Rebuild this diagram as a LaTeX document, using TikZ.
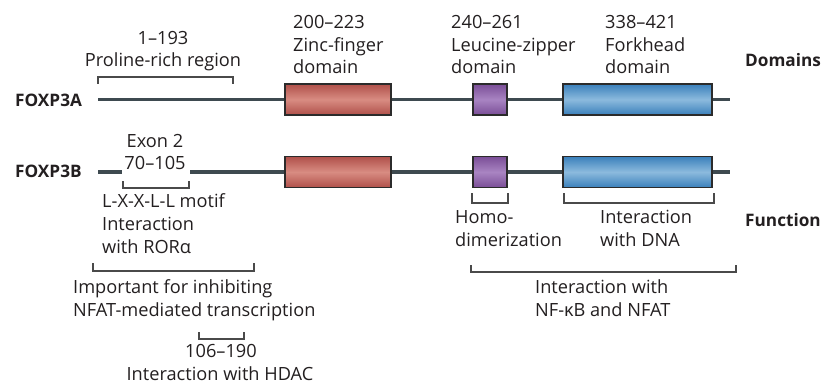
\documentclass[tikz,border=0pt]{standalone}
\usepackage{fontspec}
\setmainfont{Open Sans}
\begin{document}
\begin{tikzpicture}[x=1pt,y=-1pt,
  txt/.style={inner sep=0pt,text=ink,font=\fontsize{18.2}{22}\selectfont},
  lab/.style={txt,font=\fontsize{17.2}{21}\selectfont\bfseries},
  chain/.style={line width=3pt,draw=backbone},
  brk/.style={line width=1.3pt,draw=bracketgray},
  dombox/.style={draw=boxedge,line width=1.4pt,inner sep=0pt,minimum height=31pt},
  zinc/.style={dombox,top color=redE,bottom color=redE,middle color=redM},
  leu/.style={dombox,top color=purE,bottom color=purE,middle color=purM},
  fork/.style={dombox,top color=bluE,bottom color=bluE,middle color=bluM}]
\definecolor{ink}{HTML}{231F20}
\definecolor{backbone}{HTML}{3E4A50}
\definecolor{bracketgray}{HTML}{4A4A4A}
\definecolor{boxedge}{HTML}{2B2B2B}
\definecolor{redE}{HTML}{B0504A}
\definecolor{redM}{HTML}{D88C82}
\definecolor{purE}{HTML}{7A4E97}
\definecolor{purM}{HTML}{A984C2}
\definecolor{bluE}{HTML}{3A80BB}
\definecolor{bluM}{HTML}{8CBADD}
\useasboundingbox (0,0) rectangle (822,385);

% ---- FOXP3A backbone ----
\coordinate (a0) at (98,99.5);
\coordinate (a1) at (730,99.5);
\draw[chain] (a0) -- (a1);
\node[zinc,minimum width=106pt] (zfA) at (338,99.5) {};
\node[leu,minimum width=34pt] (lzA) at (490,99.5) {};
\node[fork,minimum width=149pt] (fhA) at (637.5,99.5) {};

% ---- FOXP3B backbone (exon 2 spliced out) ----
\coordinate (b0) at (98,172);
\coordinate (b1) at (122,172);
\coordinate (b2) at (190,172);
\coordinate (b3) at (730,172);
\draw[chain] (b0) -- (b1);
\draw[chain] (b2) -- (b3);
\node[zinc,minimum width=106pt] (zfB) at (338,172) {};
\node[leu,minimum width=34pt] (lzB) at (490,172) {};
\node[fork,minimum width=149pt] (fhB) at (637.5,172) {};

% ---- row labels ----
\node[lab,anchor=base west] (nA) at (15,107) {FOXP3A};
\node[lab,anchor=base west] (nB) at (15,178) {FOXP3B};
\node[lab,anchor=base west] (nDom) at (745,67) {Domains};
\node[lab,anchor=base west] (nFun) at (745,226) {Function};

% ---- domain annotations ----
\draw[brk] (98,84) -- (98,77) -- (233,77) -- (233,84);
\node[txt,anchor=base] (pr1) at (163,45) {1–193};
\node[txt,anchor=base] (pr2) at (163,67) {Proline-rich region};

\node[txt,anchor=base west] (zf1) at (293,29) {200–223};
\node[txt,anchor=base west] (zf2) at (293,52) {Zinc-finger};
\node[txt,anchor=base west] (zf3) at (293,74) {domain};

\node[txt,anchor=base west] (lz1) at (451,29) {240–261};
\node[txt,anchor=base west] (lz2) at (451,52) {Leucine-zipper};
\node[txt,anchor=base west] (lz3) at (451,74) {domain};

\node[txt,anchor=base west] (fh1) at (605,29) {338–421};
\node[txt,anchor=base west] (fh2) at (605,52) {Forkhead};
\node[txt,anchor=base west] (fh3) at (605,74) {domain};

% ---- exon 2 ----
\node[txt,anchor=base] (ex1) at (155,147) {Exon 2};
\node[txt,anchor=base] (ex2) at (155,169) {70–105};
\draw[brk] (123,181) -- (123,188) -- (189,188) -- (189,181);
\node[txt,anchor=base west] (mo1) at (102,207) {L-X-X-L-L motif};
\node[txt,anchor=base west] (mo2) at (102,230) {Interaction};
\node[txt,anchor=base west] (mo3) at (102,253) {with RORα};

\draw[brk] (93,263) -- (93,271) -- (254,271) -- (254,263);
\node[txt,anchor=base west] (nf1) at (73,293) {Important for inhibiting};
\node[txt,anchor=base west] (nf2) at (73,316) {NFAT-mediated transcription};

\draw[brk] (199,332) -- (199,339) -- (244,339) -- (244,332);
\node[txt,anchor=base] (hd1) at (221,357) {106–190};
\node[txt,anchor=base] (hd2) at (220,380) {Interaction with HDAC};

% ---- C-terminal functions ----
\draw[brk] (472,193) -- (472,203) -- (508,203) -- (508,193);
\node[txt,anchor=base west] (ho1) at (455,223) {Homo-};
\node[txt,anchor=base west] (ho2) at (455,246) {dimerization};

\draw[brk] (564,193) -- (564,203) -- (714,203) -- (714,193);
\node[txt,anchor=base west] (dn1) at (600,223) {Interaction};
\node[txt,anchor=base west] (dn2) at (600,246) {with DNA};

\draw[brk] (471,265) -- (471,272) -- (736,272) -- (736,265);
\node[txt,anchor=base west] (kb1) at (535,293) {Interaction with};
\node[txt,anchor=base west] (kb2) at (535,316) {NF-κB and NFAT};
\end{tikzpicture}
\end{document}
